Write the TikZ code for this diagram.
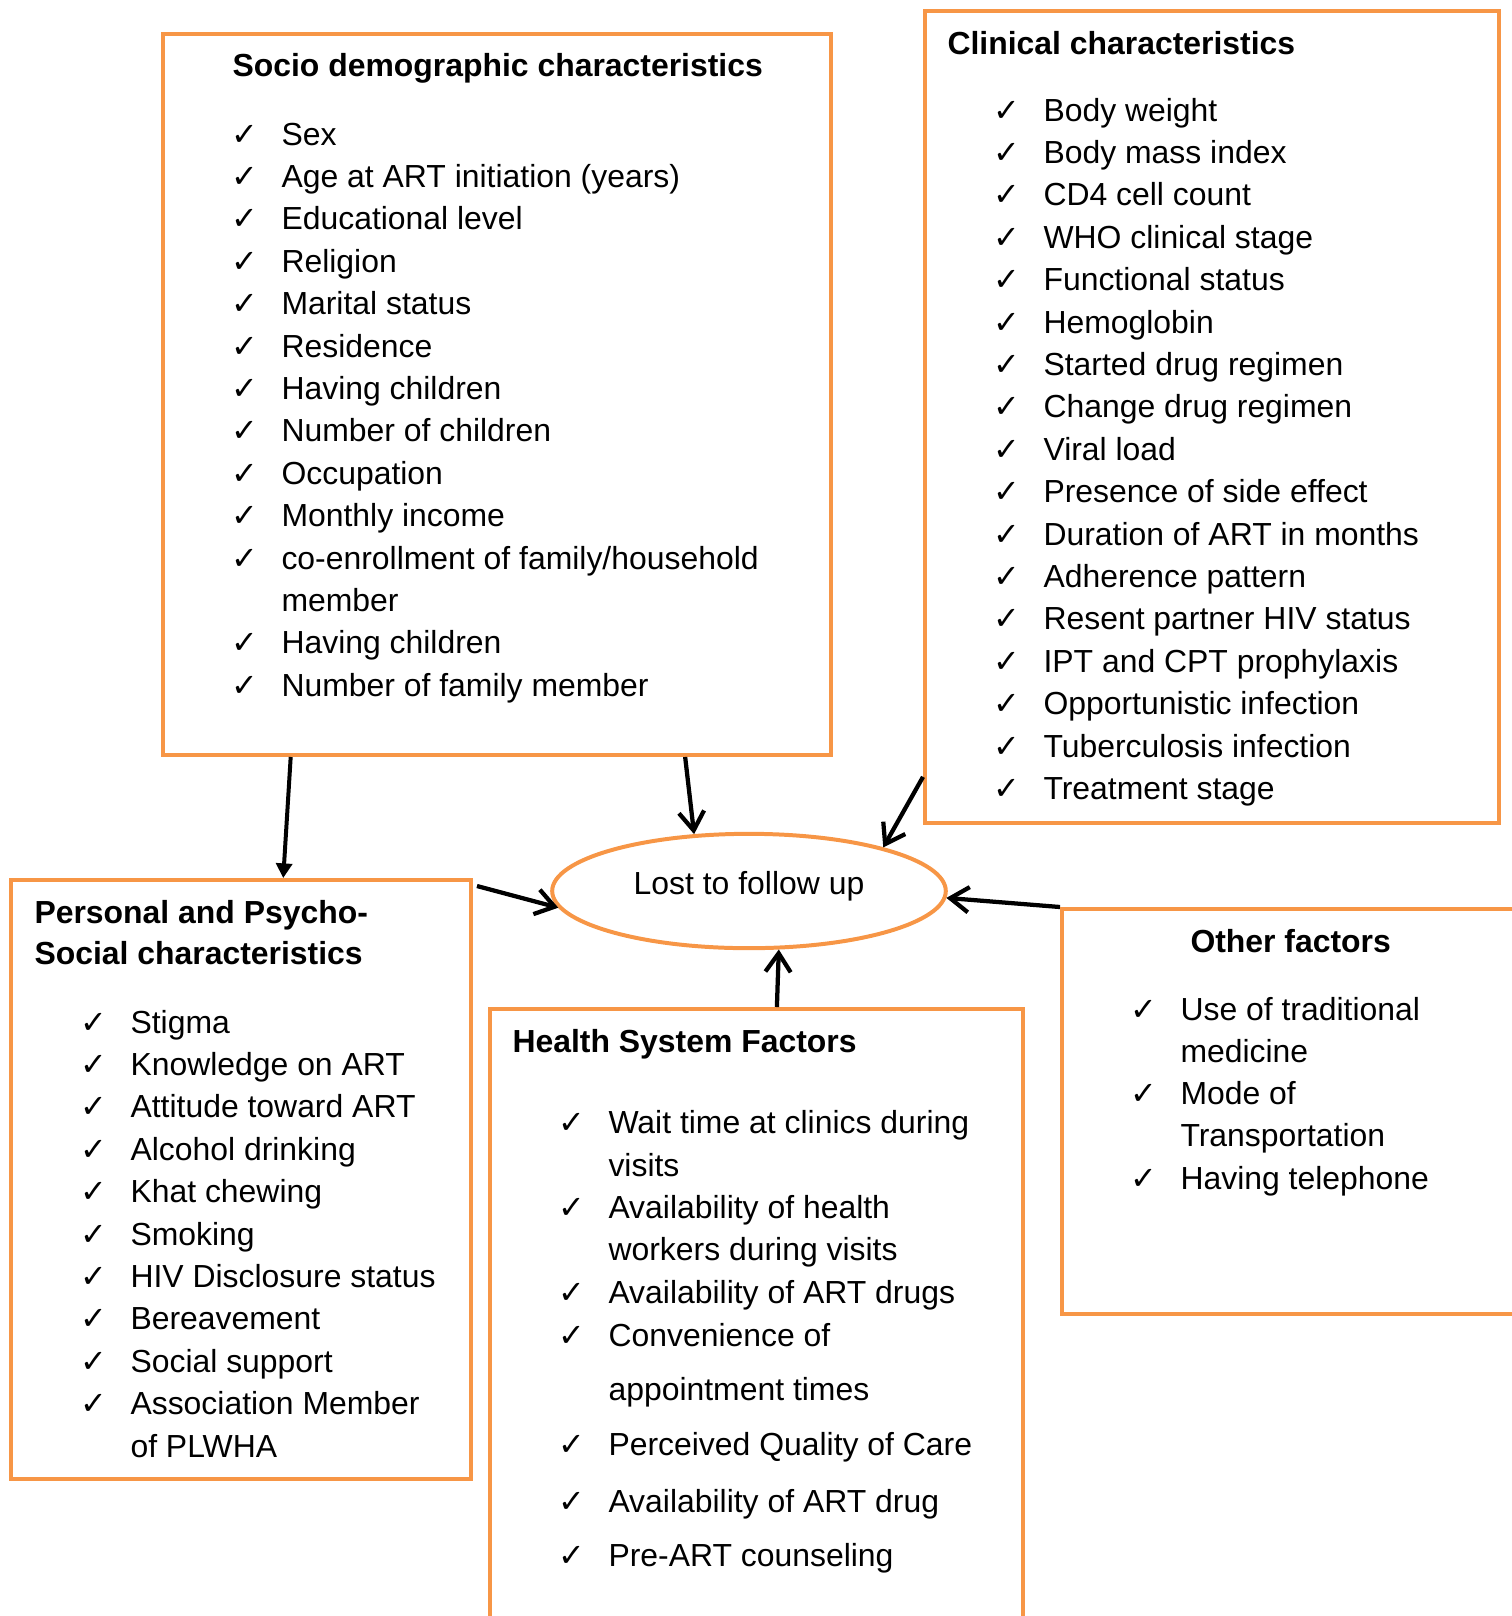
\documentclass[tikz,border=0pt]{standalone}
\usepackage{fontspec}
\setmainfont{Liberation Sans}
\newfontfamily\symfont{DejaVu Sans}
\usepackage{tikz}
\usetikzlibrary{arrows.meta,positioning,shapes.geometric,calc,fit}
\definecolor{boxorange}{HTML}{F79646}
\newcommand{\itemfont}{\fontsize{12}{15.9}\selectfont}
\newcommand{\tickmark}{{\symfont\bfseries ✓}}

\begin{document}
\begin{tikzpicture}[x=0.376pt,y=-0.376pt,>={Straight Barb[length=7pt,width=9.5pt]},
  every node/.style={font=\itemfont},
  fbox/.style={draw=boxorange,line width=1.5pt,inner sep=0pt},
  boxhead/.style={anchor=base west,inner sep=0pt,font=\itemfont\bfseries},
  itemtext/.style={anchor=base west,inner sep=0pt},
  chk/.style={anchor=base,inner sep=0pt},
  link/.style={->,line width=1.6pt}]
\useasboundingbox (0,0) rectangle (1512,1616);

% frames
\node[fbox,fit={(163,34) (831,755)}] (soc) {};
\node[fbox,fit={(925,11) (1499,823)}] (clin) {};
\node[fbox,fit={(11,880) (471,1479)}] (pers) {};
\node[fbox,fit={(490,1009) (1023,1650)}] (hsf) {};
\node[fbox,fit={(1062,909) (1545,1314)}] (oth) {};
\node[draw=boxorange,line width=1.5pt,ellipse,inner sep=0pt,text depth=0.6em,
  minimum width=148pt,minimum height=43pt] (lfu) at (749,891) {Lost to follow up};

% socio demographic
\node[boxhead] (sochead) at (232,76) {Socio demographic characteristics};
\foreach \t [count=\i] in {Sex,Age at ART initiation (years),Educational level,Religion,
  Marital status,Residence,Having children,Number of children,Occupation,Monthly income,
  co-enrollment of family/household,member,Having children,Number of family member}
  \node[itemtext] (soc\i) at (281,{145+42.4*(\i-1)}) {\t};
\foreach \i in {1,...,11,13,14}
  \node[chk] (socc\i) at ($(soc\i.base west)+(-36,0)$) {\tickmark};

% clinical
\node[boxhead] (clinhead) at (947,54) {Clinical characteristics};
\foreach \t [count=\i] in {Body weight,Body mass index,CD4 cell count,WHO clinical stage,
  Functional status,Hemoglobin,Started drug regimen,Change drug regimen,Viral load,
  Presence of side effect,Duration of ART in months,Adherence pattern,
  Resent partner HIV status,IPT and CPT prophylaxis,Opportunistic infection,
  Tuberculosis infection,Treatment stage}
{
  \node[itemtext] (clin\i) at (1043,{121+42.4*(\i-1)}) {\t};
  \node[chk] (clinc\i) at ($(clin\i.base west)+(-36,0)$) {\tickmark};
}

% personal and psycho-social
\node[boxhead] (pershead1) at (34,923) {Personal and Psycho-};
\node[boxhead] (pershead2) at (34,964) {Social characteristics};
\foreach \t [count=\i] in {Stigma,Knowledge on ART,Attitude toward ART,Alcohol drinking,
  Khat chewing,Smoking,HIV Disclosure status,Bereavement,Social support,
  Association Member,of PLWHA}
  \node[itemtext] (pers\i) at (130,{1033+42.4*(\i-1)}) {\t};
\foreach \i in {1,...,10}
  \node[chk] (persc\i) at ($(pers\i.base west)+(-36,0)$) {\tickmark};

% health system
\node[boxhead] (hsfhead) at (512,1052) {Health System Factors};
\foreach \y/\t [count=\i] in {1133/Wait time at clinics during,1176/visits,
  1218/Availability of health,1260/workers during visits,1303/Availability of ART drugs,
  1346/Convenience of,1400/appointment times,1455/Perceived Quality of Care,
  1512/Availability of ART drug,1566/Pre-ART counseling}
  \node[itemtext] (hsf\i) at (608,\y) {\t};
\foreach \i in {1,3,5,6,8,9,10}
  \node[chk] (hsfc\i) at ($(hsf\i.base west)+(-36,0)$) {\tickmark};

% other
\node[boxhead] (othhead) at (1190,952) {Other factors};
\foreach \t [count=\i] in {Use of traditional,medicine,Mode of,Transportation,Having telephone}
  \node[itemtext] (oth\i) at (1180,{1020+42.3*(\i-1)}) {\t};
\foreach \i in {1,3,5}
  \node[chk] (othc\i) at ($(oth\i.base west)+(-36,0)$) {\tickmark};

% arrows
\draw[line width=1.5pt,-{Triangle[length=5.5pt,width=6pt]}] ($(soc.south west)!0.193!(soc.south east)$) -- ($(pers.north west)!0.591!(pers.north east)$);
\draw[link] ($(soc.south west)!0.78!(soc.south east)$) -- (lfu.134);
\draw[link] ($(clin.north west)!0.941!(clin.south west)$) -- (lfu.18);
\draw[link] ($(pers.north east)+(4,8)$) -- (lfu.185);
\draw[link] (oth.north west) -- (lfu.358);
\draw[link] ($(hsf.north west)!0.538!(hsf.north east)$) -- (lfu.297);
\end{tikzpicture}
\end{document}
